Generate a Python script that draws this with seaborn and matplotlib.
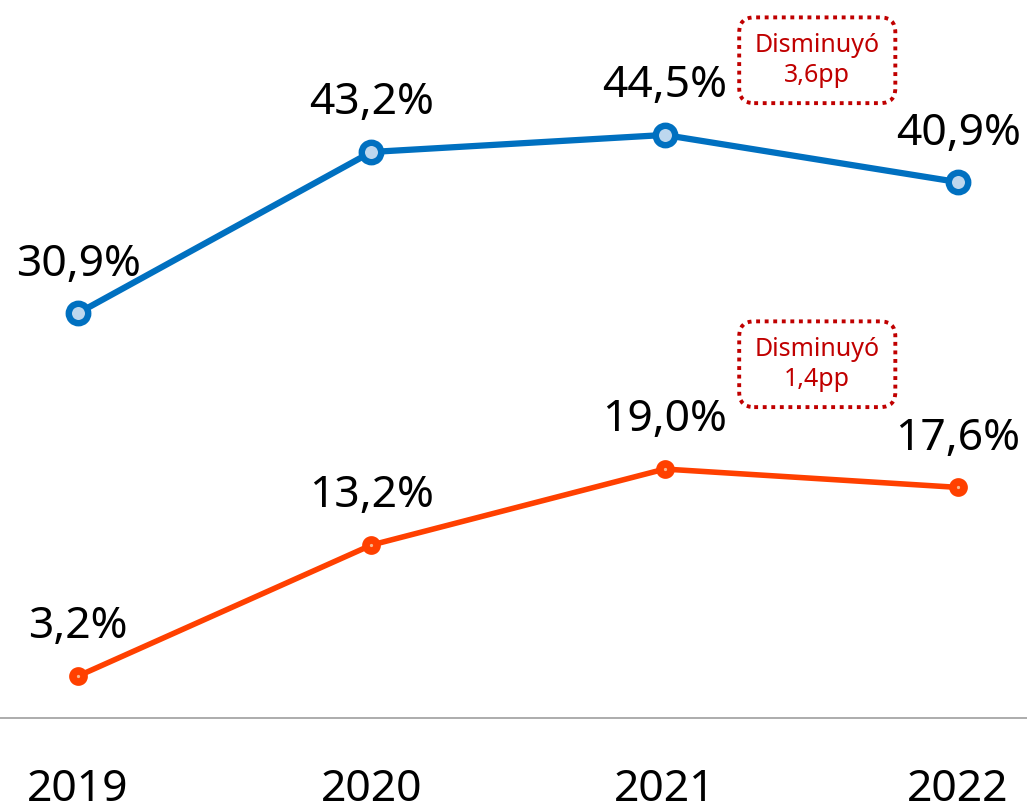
import matplotlib
matplotlib.use("Agg")
import matplotlib.pyplot as plt
import seaborn as sns
import pandas as pd

# datos
anios = ["2019", "2020", "2021", "2022"]
serie_azul = [30.9, 43.2, 44.5, 40.9]
serie_naranja = [3.2, 13.2, 19.0, 17.6]
nota_azul = "Disminuyó\n3,6pp"
nota_naranja = "Disminuyó\n1,4pp"

sns.set_style("white")
plt.rcParams['font.family'] = ['Noto Sans', 'DejaVu Sans']

df = pd.DataFrame({
    'x': list(range(len(anios))) * 2,
    'valor': serie_azul + serie_naranja,
    'serie': ['azul'] * 4 + ['naranja'] * 4,
})

fig = plt.figure(figsize=(10.27, 8.11), dpi=100)
ax = fig.add_axes([0, 93 / 811, 1, 718 / 811])

sns.lineplot(data=df[df.serie == 'azul'], x='x', y='valor', ax=ax,
             color='#0070C0', linewidth=4.5, marker='o', markersize=14,
             markerfacecolor='#BDD7EE', markeredgecolor='#0070C0',
             markeredgewidth=4.6, zorder=3)
sns.lineplot(data=df[df.serie == 'naranja'], x='x', y='valor', ax=ax,
             color='#FF4000', linewidth=4.0, marker='o', markersize=8,
             markerfacecolor='#F8B88F', markeredgecolor='#FF4000',
             markeredgewidth=5.5, zorder=3)

# etiquetas de valores
for serie in [serie_azul, serie_naranja]:
    for i, v in enumerate(serie):
        ax.annotate(f"{v:.1f}%".replace('.', ','), (i, v),
                    xytext=(0, 35), textcoords='offset points',
                    ha='center', va='center', fontsize=32, color='black')

# cuadros de notas
caja = dict(boxstyle='round,pad=0.62,rounding_size=0.6', facecolor='white',
            edgecolor='#C00000', linestyle=(0, (1, 1.2)), linewidth=2.8)
ax.text(2.52, 50.2, nota_azul, ha='center', va='center', fontsize=18,
        color='#C00000', bbox=caja, linespacing=1.25)
ax.text(2.52, 27.0, nota_naranja, ha='center', va='center', fontsize=18,
        color='#C00000', bbox=caja, linespacing=1.25)

ax.set_xlim(-0.266, 3.235)
ax.set_ylim(0, 54.8)
ax.set_xticks(range(len(anios)))
ax.set_xticklabels(anios, fontsize=32, color='black')
ax.tick_params(axis='x', length=0, pad=36)
ax.set_yticks([])
ax.set_xlabel('')
ax.set_ylabel('')
for s in ['top', 'right', 'left']:
    ax.spines[s].set_visible(False)
ax.spines['bottom'].set_color('#A6A6A6')
ax.spines['bottom'].set_linewidth(1.3)
if ax.get_legend():
    ax.get_legend().remove()

fig.savefig('out.png', dpi=100)
